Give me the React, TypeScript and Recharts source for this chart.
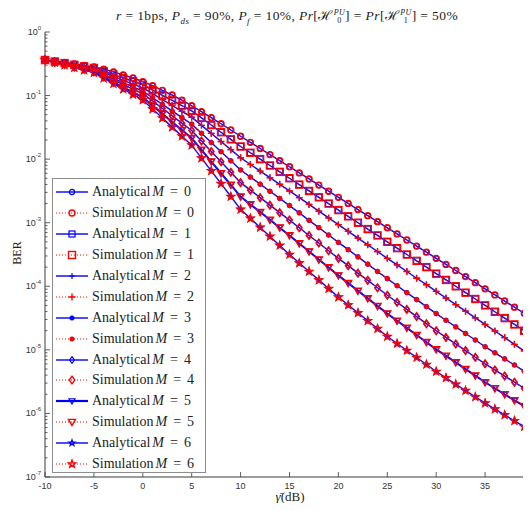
import React from 'react';
import { LineChart, Line, XAxis, YAxis, Legend } from 'recharts';

const snrDb = [
  -10, -9, -8, -7, -6, -5, -4, -3, -2, -1, 0, 1, 2, 3, 4, 5, 6, 7, 8, 9, 10,
  11, 12, 13, 14, 15, 16, 17, 18, 19, 20, 21, 22, 23, 24, 25, 26, 27, 28, 29, 30,
  31, 32, 33, 34, 35, 36, 37, 38, 39, 40,
];

// BER, one value per dB
const berM0 = [
  0.363, 0.348, 0.333, 0.316, 0.299, 0.282, 0.259, 0.236, 0.212, 0.189, 0.166,
  0.143, 0.121, 0.102, 0.0847, 0.0692, 0.056, 0.0449, 0.036, 0.0287, 0.0229,
  1.84e-2, 1.47e-2, 1.18e-2, 9.46e-3, 7.59e-3, 6.08e-3, 4.88e-3, 3.91e-3, 3.13e-3, 2.51e-3,
  2.01e-3, 1.61e-3, 1.29e-3, 1.04e-3, 8.32e-4, 6.67e-4, 5.35e-4, 4.29e-4, 3.44e-4, 2.75e-4,
  2.21e-4, 1.77e-4, 1.42e-4, 1.14e-4, 9.12e-5, 7.31e-5, 5.86e-5, 4.7e-5, 3.77e-5, 3.02e-5,
];
const berM1 = [
  0.363, 0.343, 0.324, 0.305, 0.288, 0.272, 0.241, 0.213, 0.189, 0.167, 0.148,
  0.122, 0.101, 0.0839, 0.0695, 0.0575, 0.0445, 0.0344, 0.0265, 0.0205, 0.0158,
  1.26e-2, 1.0e-2, 7.94e-3, 6.31e-3, 5.01e-3, 3.98e-3, 3.16e-3, 2.51e-3, 2.0e-3, 1.58e-3,
  1.26e-3, 1.0e-3, 7.94e-4, 6.31e-4, 5.01e-4, 3.98e-4, 3.16e-4, 2.51e-4, 2.0e-4, 1.58e-4,
  1.26e-4, 1.0e-4, 7.94e-5, 6.31e-5, 5.01e-5, 3.98e-5, 3.16e-5, 2.51e-5, 2.0e-5, 1.58e-5,
];
const berM2 = [
  0.363, 0.34, 0.319, 0.299, 0.281, 0.263, 0.229, 0.2, 0.174, 0.151, 0.132,
  0.107, 0.0863, 0.0698, 0.0565, 0.0457, 0.034, 0.0254, 0.0189, 0.0141, 0.0105,
  8.24e-3, 6.49e-3, 5.11e-3, 4.02e-3, 3.16e-3, 2.48e-3, 1.94e-3, 1.52e-3, 1.19e-3, 9.33e-4,
  7.31e-4, 5.73e-4, 4.49e-4, 3.52e-4, 2.75e-4, 2.17e-4, 1.71e-4, 1.34e-4, 1.06e-4, 8.32e-5,
  6.55e-5, 5.15e-5, 4.06e-5, 3.19e-5, 2.51e-5, 1.98e-5, 1.56e-5, 1.22e-5, 9.64e-6, 7.59e-6,
];
const berM3 = [
  0.363, 0.337, 0.313, 0.291, 0.27, 0.251, 0.216, 0.185, 0.159, 0.137, 0.117,
  0.0925, 0.0728, 0.0573, 0.0451, 0.0355, 0.0255, 0.0183, 0.0131, 9.42e-3, 6.76e-3,
  5.22e-3, 4.04e-3, 3.12e-3, 2.41e-3, 1.86e-3, 1.43e-3, 1.09e-3, 8.36e-4, 6.4e-4, 4.9e-4,
  3.77e-4, 2.9e-4, 2.23e-4, 1.71e-4, 1.32e-4, 1.02e-4, 7.94e-5, 6.17e-5, 4.79e-5, 3.72e-5,
  2.92e-5, 2.3e-5, 1.81e-5, 1.43e-5, 1.12e-5, 8.99e-6, 7.21e-6, 5.78e-6, 4.63e-6, 3.72e-6,
];
const berM4 = [
  0.363, 0.336, 0.31, 0.287, 0.265, 0.245, 0.208, 0.176, 0.149, 0.126, 0.107,
  0.082, 0.0628, 0.0481, 0.0368, 0.0282, 0.0193, 0.0132, 9.08e-3, 6.22e-3, 4.27e-3,
  3.25e-3, 2.48e-3, 1.89e-3, 1.44e-3, 1.1e-3, 8.32e-4, 6.31e-4, 4.79e-4, 3.63e-4, 2.75e-4,
  2.11e-4, 1.61e-4, 1.24e-4, 9.46e-5, 7.24e-5, 5.6e-5, 4.33e-5, 3.34e-5, 2.58e-5, 2.0e-5,
  1.57e-5, 1.24e-5, 9.73e-6, 7.66e-6, 6.03e-6, 4.83e-6, 3.87e-6, 3.1e-6, 2.49e-6, 2.0e-6,
];
const berM5 = [
  0.363, 0.333, 0.305, 0.279, 0.256, 0.234, 0.195, 0.162, 0.135, 0.112, 0.0933,
  0.0695, 0.0518, 0.0385, 0.0287, 0.0214, 0.014, 9.16e-3, 6.0e-3, 3.93e-3, 2.57e-3,
  1.94e-3, 1.47e-3, 1.11e-3, 8.36e-4, 6.31e-4, 4.72e-4, 3.53e-4, 2.64e-4, 1.98e-4, 1.48e-4,
  1.12e-4, 8.51e-5, 6.46e-5, 4.9e-5, 3.72e-5, 2.87e-5, 2.22e-5, 1.71e-5, 1.32e-5, 1.02e-5,
  8.05e-6, 6.34e-6, 4.99e-6, 3.93e-6, 3.09e-6, 2.49e-6, 2.0e-6, 1.61e-6, 1.3e-6, 1.05e-6,
];
const berM6 = [
  0.363, 0.331, 0.302, 0.275, 0.251, 0.229, 0.188, 0.154, 0.126, 0.104, 0.0851,
  0.0614, 0.0443, 0.0319, 0.023, 0.0166, 0.0104, 6.55e-3, 4.11e-3, 2.58e-3, 1.62e-3,
  1.17e-3, 8.43e-4, 6.08e-4, 4.39e-4, 3.16e-4, 2.32e-4, 1.71e-4, 1.25e-4, 9.2e-5, 6.76e-5,
  5.08e-5, 3.82e-5, 2.87e-5, 2.16e-5, 1.62e-5, 1.26e-5, 9.77e-6, 7.59e-6, 5.89e-6, 4.57e-6,
  3.63e-6, 2.88e-6, 2.29e-6, 1.82e-6, 1.45e-6, 1.17e-6, 9.46e-7, 7.66e-7, 6.19e-7, 5.01e-7,
];

const mValues = [0, 1, 2, 3, 4, 5, 6];
const berByM = [berM0, berM1, berM2, berM3, berM4, berM5, berM6];
const markerShapes = ['circle', 'square', 'plus', 'point', 'diamond', 'triangle', 'star'];

const xTicks = [-10, -5, 0, 5, 10, 15, 20, 25, 30, 35, 40];
const yDecades = [-7, -6, -5, -4, -3, -2, -1, 0];

const BLUE = '#0000ff';
const RED = '#ff0000';
const AXIS = '#3a3a3a';
const SERIF = '"Liberation Serif", "Times New Roman", serif';
const SANS = '"Liberation Sans", Arial, sans-serif';

const rows = snrDb.map((snr, i) => {
  const row: Record<string, number> = { snr };
  mValues.forEach((m, k) => {
    row[`m${m}`] = berByM[k][i];
  });
  return row;
});

// major + minor ticks for the log axis
const yTicks: number[] = [];
yDecades.forEach((e) => {
  yTicks.push(Math.pow(10, e));
  if (e < 0) for (let k = 2; k <= 9; k++) yTicks.push(k * Math.pow(10, e));
});

function Marker({ shape, cx, cy, color, size, sw = 1.2 }: any) {
  if (cx == null || cy == null) return null;
  const h = size / 2;
  const st = { fill: 'none', stroke: color, strokeWidth: sw };
  switch (shape) {
    case 'circle':
      return <circle cx={cx} cy={cy} r={h * 0.85} {...st} />;
    case 'square':
      return <rect x={cx - h} y={cy - h} width={size} height={size} {...st} />;
    case 'plus':
      return <path d={`M${cx - h},${cy}H${cx + h}M${cx},${cy - h}V${cy + h}`} {...st} />;
    case 'point':
      return <circle cx={cx} cy={cy} r={2.3} fill={color} stroke={color} strokeWidth={0.6} />;
    case 'diamond':
      return (
        <path
          d={`M${cx},${cy - h * 1.1}L${cx + h * 0.8},${cy}L${cx},${cy + h * 1.1}L${cx - h * 0.8},${cy}Z`}
          {...st}
        />
      );
    case 'triangle':
      return <path d={`M${cx - h},${cy - h * 0.75}L${cx + h},${cy - h * 0.75}L${cx},${cy + h}Z`} {...st} />;
    case 'star': {
      let d = '';
      for (let j = 0; j < 10; j++) {
        const r = j % 2 === 0 ? h * 1.1 : h * 0.45;
        const a = -Math.PI / 2 + (j * Math.PI) / 5;
        d += `${j === 0 ? 'M' : 'L'}${cx + r * Math.cos(a)},${cy + r * Math.sin(a)}`;
      }
      return <path d={d + 'Z'} {...st} />;
    }
    default:
      return null;
  }
}

function LogTick({ x, y, payload }: any) {
  const v = payload.value;
  const e = Math.round(Math.log10(v));
  const major = Math.abs(v - Math.pow(10, e)) < v * 1e-6;
  return (
    <g>
      <line x1={x} x2={x + (major ? 5 : 2.5)} y1={y} y2={y} stroke={AXIS} strokeWidth={0.8} />
      {major && (
        <text x={x - 4} y={y + 3} textAnchor="end" fontSize={9} fontFamily={SANS} fill="#333">
          10
          <tspan dy={-5} fontSize={6}>
            {e}
          </tspan>
        </text>
      )}
    </g>
  );
}

function BottomTick({ x, y, payload }: any) {
  return (
    <g>
      <line x1={x} x2={x} y1={y} y2={y - 5} stroke={AXIS} strokeWidth={0.8} />
      <text x={x} y={y + 12} textAnchor="middle" fontSize={9} fontFamily={SANS} fill="#333">
        {payload.value}
      </text>
    </g>
  );
}

function TopTick({ x, y }: any) {
  return <line x1={x} x2={x} y1={y} y2={y + 5} stroke={AXIS} strokeWidth={0.8} />;
}

function LegendBox() {
  const items: { label: string; m: number; shape: string; sim: boolean }[] = [];
  mValues.forEach((m, k) => {
    items.push({ label: 'Analytical', m, shape: markerShapes[k], sim: false });
    items.push({ label: 'Simulation', m, shape: markerShapes[k], sim: true });
  });
  return (
    <div
      style={{
        width: 154,
        height: 295,
        boxSizing: 'border-box',
        border: '1.5px solid #8c8c8c',
        background: '#fff',
        paddingTop: 3,
      }}
    >
      {items.map((it) => (
        <div
          key={`${it.label}${it.m}`}
          style={{ height: 20.9, display: 'flex', alignItems: 'center', whiteSpace: 'nowrap' }}
        >
          <svg width={36} height={14} style={{ marginLeft: 2, flex: 'none' }}>
            <line
              x1={1}
              x2={33}
              y1={7}
              y2={7}
              stroke={it.sim ? RED : BLUE}
              strokeWidth={it.sim ? 1 : it.m === 5 ? 2.2 : 1.4}
              strokeDasharray={it.sim ? '1 2' : undefined}
            />
            <Marker
              shape={it.shape}
              cx={17}
              cy={7}
              color={it.sim ? RED : BLUE}
              size={it.sim ? 7 : 6}
              sw={it.sim ? 1.4 : 1.2}
            />
          </svg>
          <span style={{ fontFamily: SERIF, fontSize: 14, color: '#222', marginLeft: 1 }}>
            {it.label}
            <i style={{ marginLeft: 2 }}>M</i>
            <span style={{ margin: '0 6px' }}>=</span>
            {it.m}
          </span>
        </div>
      ))}
    </div>
  );
}

function Stack({ sup, sub }: { sup: string; sub: string }) {
  return (
    <span
      style={{
        display: 'inline-flex',
        flexDirection: 'column',
        fontSize: 8,
        lineHeight: '8px',
        verticalAlign: 'middle',
        marginLeft: 1,
      }}
    >
      <i>{sup}</i>
      <span>{sub}</span>
    </span>
  );
}

export default function App() {
  return (
    <div
      style={{
        margin: -8,
        width: 531,
        height: 511,
        overflow: 'hidden',
        position: 'relative',
        background: '#fff',
      }}
    >
      <LineChart width={540} height={511} data={rows} margin={{ top: 32, right: 6, bottom: 4, left: 0 }}>
        <XAxis
          xAxisId="top"
          orientation="top"
          type="number"
          dataKey="snr"
          domain={[-10, 40]}
          ticks={xTicks}
          interval={0}
          height={0}
          tickSize={0}
          tickMargin={0}
          tickLine={false}
          tick={<TopTick />}
          axisLine={{ stroke: AXIS }}
        />
        <XAxis
          type="number"
          dataKey="snr"
          domain={[-10, 40]}
          ticks={xTicks}
          interval={0}
          height={30}
          tickSize={0}
          tickMargin={0}
          tickLine={false}
          tick={<BottomTick />}
          axisLine={{ stroke: AXIS }}
        />
        <YAxis
          type="number"
          scale="log"
          domain={[1e-7, 1]}
          allowDataOverflow
          ticks={yTicks}
          interval={0}
          width={45}
          tickSize={0}
          tickMargin={0}
          tickLine={false}
          tick={<LogTick />}
          axisLine={{ stroke: AXIS }}
        />
        {mValues.flatMap((m, k) => [
          <Line
            key={`a${m}`}
            dataKey={`m${m}`}
            name={`Analytical M = ${m}`}
            stroke={BLUE}
            strokeWidth={m === 5 ? 2 : 1.4}
            isAnimationActive={false}
            activeDot={false}
            dot={(p: any) => (
              <Marker key={`a${m}-${p.index}`} shape={markerShapes[k]} cx={p.cx} cy={p.cy} color={BLUE} size={6} />
            )}
          />,
          <Line
            key={`s${m}`}
            dataKey={`m${m}`}
            name={`Simulation M = ${m}`}
            stroke={RED}
            strokeWidth={1}
            strokeDasharray="1 2"
            isAnimationActive={false}
            activeDot={false}
            dot={(p: any) => (
              <Marker
                key={`s${m}-${p.index}`}
                shape={markerShapes[k]}
                cx={p.cx}
                cy={p.cy}
                color={RED}
                size={7}
                sw={1.4}
              />
            )}
          />,
        ])}
        <Legend
          layout="vertical"
          align="center"
          verticalAlign="middle"
          content={<LegendBox />}
          wrapperStyle={{ position: 'absolute', left: 52, top: 178, width: 154, height: 295 }}
        />
      </LineChart>

      <div
        style={{
          position: 'absolute',
          left: 0,
          width: 574,
          top: 7,
          textAlign: 'center',
          fontFamily: SERIF,
          fontSize: 13.5,
          letterSpacing: 0.4,
          lineHeight: '18px',
          color: '#222',
          whiteSpace: 'nowrap',
        }}
      >
        <i>r</i> = 1bps, <i>P</i>
        <sub style={{ fontSize: 9 }}>
          <i>ds</i>
        </sub>{' '}
        = 90%, <i>P</i>
        <sub style={{ fontSize: 9 }}>
          <i>f</i>
        </sub>{' '}
        = 10%, <i>Pr</i>[ℋ<Stack sup="PU" sub="0" />] = <i>Pr</i>[ℋ<Stack sup="PU" sub="1" />] = 50%
      </div>
      <div
        style={{
          position: 'absolute',
          left: 17,
          top: 253,
          transform: 'translate(-50%, -50%) rotate(-90deg)',
          fontFamily: SERIF,
          fontSize: 12,
          lineHeight: '14px',
          color: '#222',
        }}
      >
        BER
      </div>
      <div
        style={{
          position: 'absolute',
          left: 290,
          top: 490,
          fontFamily: SERIF,
          fontSize: 13,
          lineHeight: '14px',
          color: '#222',
          whiteSpace: 'nowrap',
          transform: 'translateX(-50%)',
        }}
      >
        <i>γ̄</i>(dB)
      </div>
    </div>
  );
}
